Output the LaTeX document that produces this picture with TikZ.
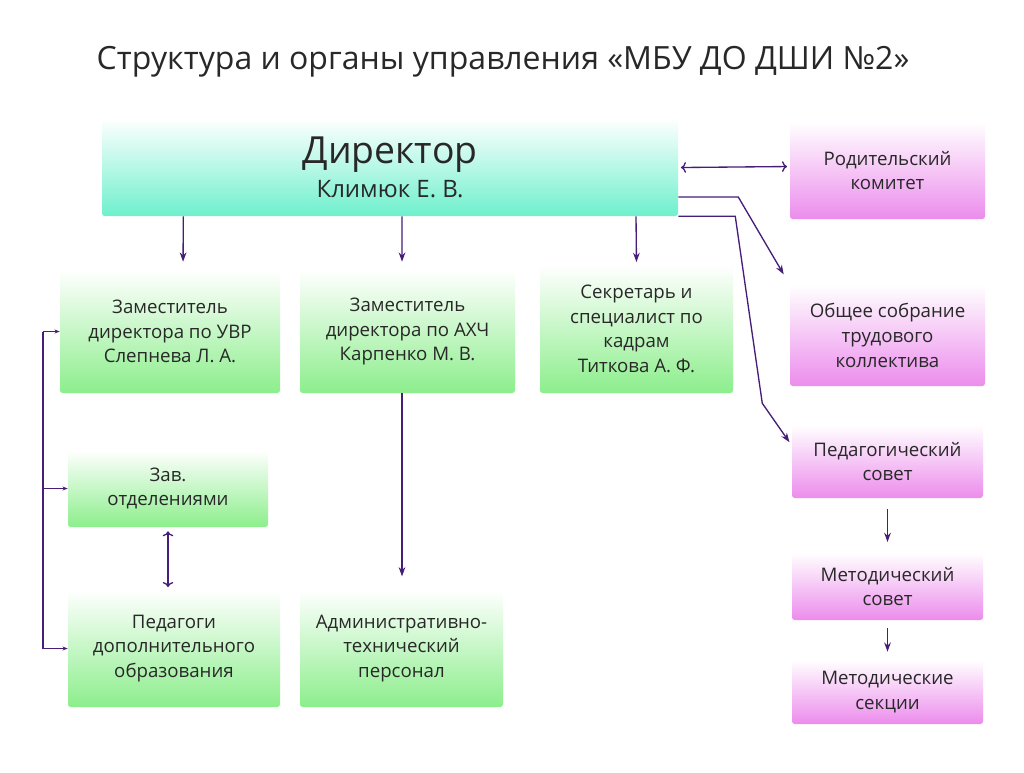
\documentclass[tikz,border=0pt]{standalone}
\usepackage{fontspec}
\setmainfont{Open Sans}
\usetikzlibrary{arrows.meta}
\begin{document}
\begin{tikzpicture}[x=0.75pt,y=-0.75pt,
  box/.style={rounded corners=2pt,align=center,text=txt,font=\fontsize{14}{18.5}\selectfont},
  sz/.style 2 args={minimum width=#1*0.75pt,minimum height=#2*0.75pt},
  green/.style={box,top color=white,bottom color=kGreen},
  teal/.style={box,top color=white,bottom color=kTeal},
  pink/.style={box,top color=white,bottom color=kPink},
  arr/.style={draw=kLine,line width=1pt,-{Stealth[length=7pt,width=5pt]}},
  sarr/.style={draw=kLine,line width=0.8pt,-{Stealth[length=4pt,width=3pt]}}]
  % colors
  \definecolor{kGreen}{RGB}{140,238,140}
  \definecolor{kTeal}{RGB}{110,240,205}
  \definecolor{kPink}{RGB}{236,140,236}
  \definecolor{kLine}{RGB}{70,30,120}
  \definecolor{txt}{RGB}{40,40,40}
  \useasboundingbox (0,0) rectangle (1024,772);
  % title
  \node[text=txt,font=\fontsize{24}{28}\selectfont] (title) at (503,62) {Структура и органы управления «МБУ ДО ДШИ №2»};
  % boxes
  \node[teal,sz={576}{98}] (dir) at (390,167) {{\fontsize{28}{34}\selectfont Директор}\\[5pt]{\fontsize{18}{24}\selectfont Климюк Е. В.}};
  \node[pink,sz={195}{97}] (rod) at (887.5,170.5) {Родительский\\комитет};
  \node[green,sz={220}{123}] (uvr) at (170,331.5) {Заместитель\\директора по УВР\\Слепнева Л. А.};
  \node[green,sz={215}{123}] (ahc) at (407.5,331.5) {Заместитель\\директора по АХЧ\\Карпенко М. В.};
  \node[green,sz={193}{128}] (sec) at (636.5,329) {Секретарь и\\специалист по\\кадрам\\Титкова А. Ф.};
  \node[pink,sz={195}{101}] (obsh) at (887.5,335.5) {Общее собрание\\трудового\\коллектива};
  \node[green,sz={200}{77}] (zav) at (168,488.5) {Зав.\\отделениями};
  \node[green,sz={212}{117}] (ped) at (174,648.5) {Педагоги\\дополнительного\\образования};
  \node[green,sz={203}{117}] (atp) at (401.5,648.5) {Административно-\\технический\\персонал};
  \node[pink,sz={191}{73}] (ps) at (887.5,461.5) {Педагогический\\совет};
  \node[pink,sz={191}{67}] (ms) at (887.5,586.5) {Методический\\совет};
  \node[pink,sz={191}{64}] (msek) at (887.5,692) {Методические\\секции};
  % arrows
  \draw[arr,shorten >=6pt] ([xshift=-155pt]dir.south) -- ([xshift=9.75pt]uvr.north);
  \draw[arr,shorten >=6pt] ([xshift=9pt]dir.south) -- ([xshift=-4.1pt]ahc.north);
  \draw[arr,shorten >=2pt] ([xshift=184.5pt]dir.south) -- (sec.north);
  \draw[arr,<->,shorten <=2pt,shorten >=2pt] ([yshift=-0.4pt]dir.east) -- ([yshift=3pt]rod.west);
  \draw[arr,shorten >=9pt] ([yshift=-22.5pt]dir.east) -- ++(60,0) -- (obsh.north west);
  \draw[arr,shorten >=3pt] (dir.south east) -- ++(57,0) -- ++(27,187) -- ([yshift=12pt]ps.west);
  \draw[arr,<->,shorten <=3pt,shorten >=2pt] (zav.south) -- (zav.south |- ped.north);
  \draw[arr,shorten >=10pt] (ahc.south -| 402,0) -- (atp.north -| 402,0);
  \draw[arr,shorten <=8pt,shorten >=8pt] (ps.south) -- (ms.north);
  \draw[arr,shorten <=6pt,shorten >=6pt] (ms.south) -- (msek.north);
  % left bracket
  \coordinate (lb) at (43,331.5);
  \draw[kLine,line width=0.8pt] (lb) -- (lb |- ped.west);
  \draw[sarr] (lb) -- (uvr.west);
  \draw[sarr] (lb |- zav.west) -- (zav.west);
  \draw[sarr] (lb |- ped.west) -- (ped.west);
\end{tikzpicture}
\end{document}
